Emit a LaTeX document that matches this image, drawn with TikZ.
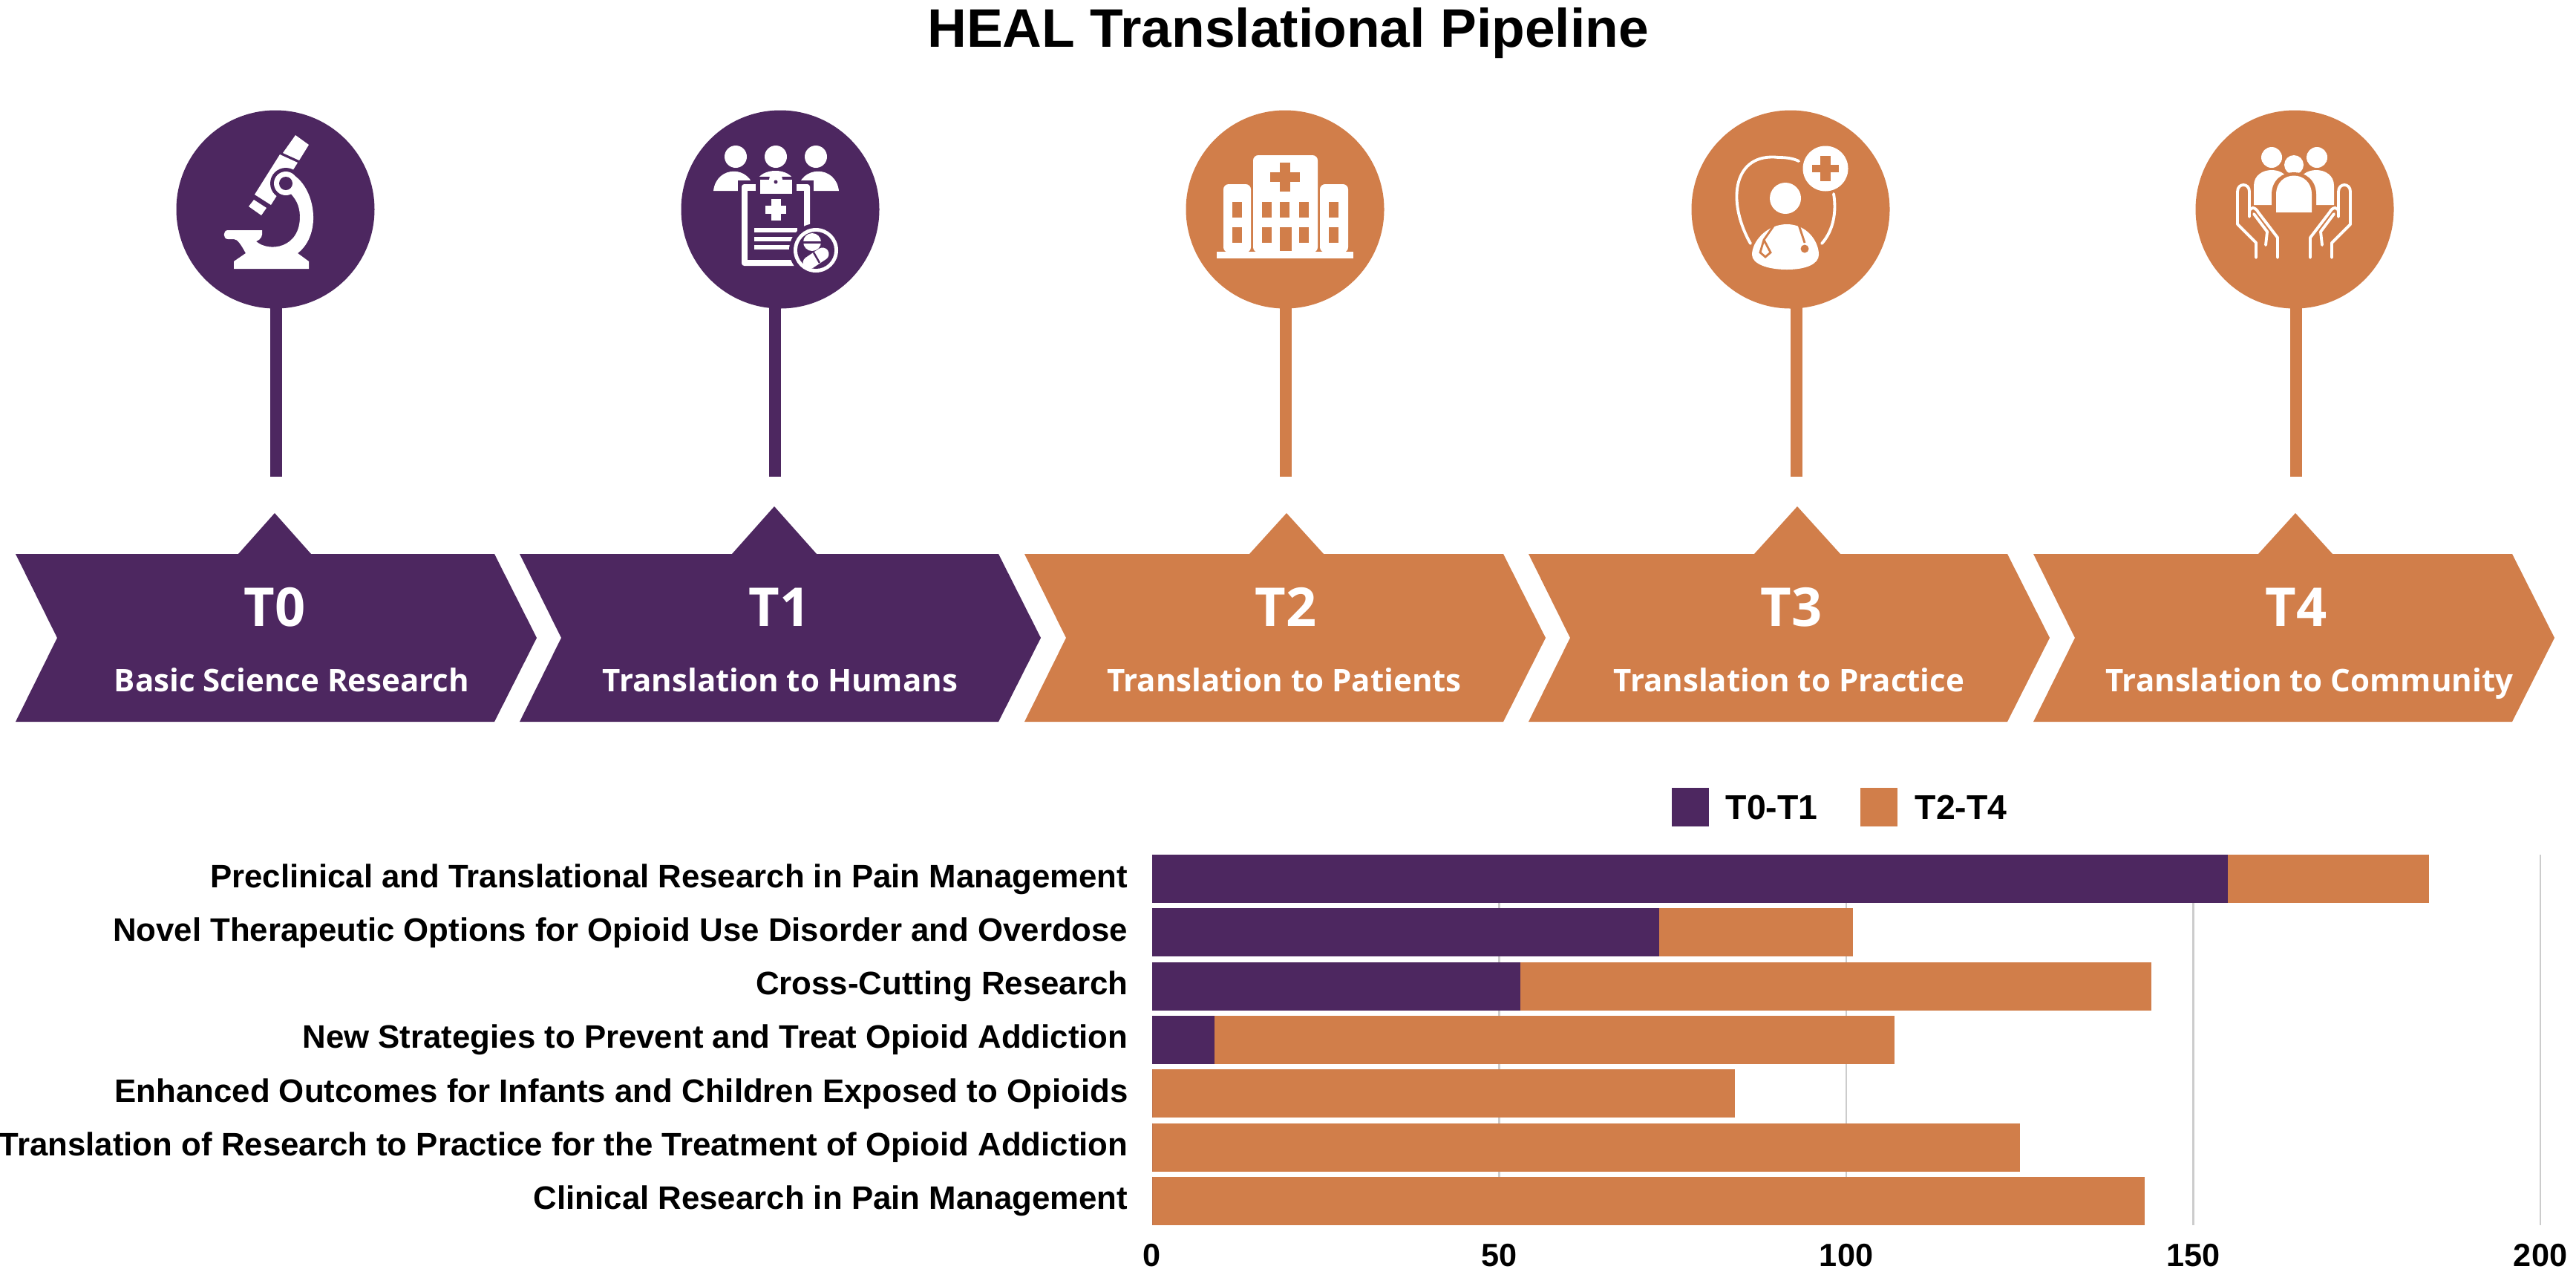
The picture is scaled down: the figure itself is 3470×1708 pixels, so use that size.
\documentclass[tikz,border=0pt]{standalone}
\usepackage{fontspec}
\setmainfont{Open Sans}
\newfontfamily\chartfont{Liberation Sans}
\usetikzlibrary{positioning}
\definecolor{healpurple}{HTML}{4D2760}
\definecolor{healorange}{HTML}{D17E4A}
\tikzset{
	pinhead/.style = {circle, minimum size = 267*0.01cm, inner sep = 0pt},
	stage/.style = {text = white, anchor = base, inner sep = 0pt, font = \fontsize{20.5}{21}\bfseries\selectfont},
	substage/.style = {text = white, anchor = base, inner sep = 0pt, font = \fontsize{11.95}{13}\bfseries\selectfont},
	catlabel/.style = {anchor = base east, inner sep = 0pt, font = \fontsize{12.45}{13}\bfseries\chartfont},
	ticklabel/.style = {anchor = base, inner sep = 0pt, font = \fontsize{12.3}{13}\bfseries\chartfont},
	legendlabel/.style = {anchor = base west, inner sep = 0pt, font = \fontsize{13.2}{14}\bfseries\chartfont},
	gridline/.style = {black!20, line width = 0.6pt},
	icon/.style = {white, draw = none},
	thinline/.style = {white, line width = 1.1pt, line join = round, line cap = round}
}
\begin{document}
\begin{tikzpicture}[x = 0.01cm, y = -0.01cm]
\useasboundingbox (0,0) rectangle (3470,1708);

\node[anchor = base, inner sep = 0pt, font = \fontsize{20.8}{21}\bfseries\chartfont] (title) at (1735,63) {HEAL Translational Pipeline};

% pins: circle x, stem x, triangle x, apex y, half base
\foreach \i/\cx/\sx/\tx/\ay/\hb/\col in {0/371/372/370/691/49/healpurple, 1/1051/1044/1043/682/57/healpurple, 2/1731/1732/1733/691/50/healorange, 3/2412/2420/2421/682/58/healorange, 4/3091/3093/3092/691/50/healorange} {
	\node[pinhead, fill = \col] (pin\i) at (\cx,282) {};
	\coordinate (stemtop\i) at (\sx,400);
	\coordinate (stemfoot\i) at (\sx,642);
	\draw[\col, line width = 16*0.01cm] (stemtop\i) -- (stemfoot\i);
	\fill[\col] (\tx-\hb,746) -- (\tx,\ay) -- (\tx+\hb,746) -- cycle;
}

% chevrons
\foreach \i/\lx/\col/\tlab/\tcx/\sublab/\scx in {0/21/healpurple/T0/370/Basic Science Research/393, 1/700/healpurple/T1/1050/Translation to Humans/1051, 2/1380/healorange/T2/1732/Translation to Patients/1730, 3/2059/healorange/T3/2413/Translation to Practice/2410, 4/2739/healorange/T4/3093/Translation to Community/3111} {
	\fill[\col] (\lx,746) -- (\lx+645,746) -- (\lx+702,859) -- (\lx+645,972) -- (\lx,972) -- (\lx+56,859) -- cycle;
	\node[stage] (stage\i) at (\tcx,843) {\tlab};
	\node[substage] (sub\i) at (\scx,931) {\sublab};
}

% microscope
\fill[icon] (398,182) -- (416,195) -- (403,216) -- (381,206) -- cycle;
\fill[icon] (377,208) -- (401,219) -- (365,276) -- (343,262) -- cycle;
\fill[icon] (342,269) -- (359,280) -- (352,290) -- (335,278) -- cycle;
\fill[healpurple] (385,247) circle (21);
\fill[icon] (391,233) .. controls (425,250) and (435,315) .. (401,341) -- (416,352) -- (416,362) -- (315,362) -- (315,352) -- (331,341) .. controls (325,330) and (320,322) .. (315,322) -- (307,322) .. controls (300,322) and (300,310) .. (307,310) -- (353,310) .. controls (354,318) and (352,322) .. (345,325) .. controls (362,340) and (405,335) .. (404,290) .. controls (403,275) and (398,268) .. (391,260) -- cycle;
\fill[icon] (385,247) circle (16);
\fill[healpurple] (385,247) circle (9);

% clipboard with people
\foreach \p in {991,1045,1099} {
	\fill[icon] (\p,211) circle (15);
}
\fill[icon] (961,257) .. controls (965,222) and (1012,222) .. (1016,257) -- cycle;
\fill[icon] (1074,257) .. controls (1078,222) and (1126,222) .. (1130,257) -- cycle;
\fill[icon] (1019,245) .. controls (1024,225) and (1065,225) .. (1070,245) -- cycle;
\fill[healpurple] (994,243) rectangle (1096,362);
\fill[icon, rounded corners = 1pt] (999,248) rectangle (1091,358);
\fill[healpurple] (1007,257) rectangle (1083,350);
\fill[healpurple] (1018,238) rectangle (1073,266);
\fill[icon] (1024,242) rectangle (1067,261);
\fill[icon] (1045,242) circle (9);
\fill[healpurple] (1045,245) circle (2.5);
\fill[icon] (1039,268) rectangle (1052,297);
\fill[icon] (1031,277) rectangle (1059,288);
\foreach \l in {310,322,333} {
	\fill[icon] (1016,\l-3) rectangle (1074,\l+3);
}
\fill[healpurple] (1099,337) circle (36);
\fill[icon] (1099,337) circle (30);
\fill[healpurple] (1099,337) circle (25);
\fill[icon] (1094,326) circle (12);
\fill[healpurple] (1081,325) rectangle (1107,328);
\draw[white, line width = 17*0.01cm, line cap = round] (1090,354) -- (1108,342);
\draw[healpurple, line width = 0.7pt] (1096,340) -- (1104,354);

% hospital
\fill[icon, rounded corners = 2pt] (1688,209) rectangle (1775,340);
\fill[icon, rounded corners = 2pt] (1648,248) rectangle (1685,340);
\fill[icon, rounded corners = 2pt] (1778,248) rectangle (1816,340);
\fill[icon] (1639,339) rectangle (1823,348);
\fill[healorange] (1724,219) rectangle (1738,258);
\fill[healorange] (1711,232) rectangle (1751,245);
\foreach \wx in {1660,1700,1724,1750,1790} {
	\fill[healorange] (\wx,272) rectangle +(13,21);
	\fill[healorange] (\wx,306) rectangle +(13,21);
}
\fill[healorange] (1724,306) rectangle (1740,338);

% doctor with cross
\draw[thinline] (2358,328) .. controls (2325,270) and (2335,205) .. (2396,212) .. controls (2405,212) and (2415,213) .. (2423,217);
\draw[thinline] (2470,261) .. controls (2474,285) and (2470,310) .. (2454,328);
\fill[icon] (2459,227) circle (30.5);
\fill[healorange] (2452,210) rectangle (2466,244);
\fill[healorange] (2441,222) rectangle (2477,232);
\fill[icon] (2405,267) circle (21);
\fill[icon] (2407,302) .. controls (2380,302) and (2360,325) .. (2360,343) .. controls (2360,355) and (2380,363) .. (2407,363) .. controls (2434,363) and (2450,355) .. (2450,343) .. controls (2450,325) and (2434,302) .. (2407,302) -- cycle;
\draw[healorange, line width = 0.8pt] (2390,303) -- (2376,323) -- (2371,340) -- (2378,346) -- (2385,340) -- (2376,323);
\draw[healorange, line width = 0.8pt] (2423,303) -- (2431,327);
\fill[healorange] (2431,335) circle (5.5);

% hands and people
\fill[icon] (3060,212) circle (14);
\fill[icon] (3121,212) circle (14);
\fill[icon] (3090,222) circle (13);
\fill[icon] (3036,276) -- (3036,250) .. controls (3036,222) and (3084,222) .. (3084,250) -- (3084,276) -- cycle;
\fill[icon] (3144,276) -- (3144,250) .. controls (3144,222) and (3096,222) .. (3096,250) -- (3096,276) -- cycle;
\fill[healorange] (3060,292) -- (3060,262) .. controls (3060,222) and (3120,222) .. (3120,262) -- (3120,292) -- cycle;
\fill[icon] (3066,286) -- (3066,262) .. controls (3066,228) and (3114,228) .. (3114,262) -- (3114,286) -- cycle;
\foreach \s in {1,-1} {
	\begin{scope}[shift = {(3090,0)}, xscale = \s]
		\draw[thinline] (-51,347) -- (-51,327) -- (-76,302) -- (-76,258) .. controls (-76,246) and (-60,246) .. (-60,258) -- (-60,292);
		\draw[thinline] (-60,286) .. controls (-60,278) and (-52,278) .. (-48,286) -- (-22,320) -- (-22,347);
		\draw[thinline] (-54,288) -- (-36,312) -- (-38,330);
	\end{scope}
}

% legend
\fill[healpurple] (2252,1061) rectangle (2302,1113);
\node[legendlabel] (legendA) at (2324,1103) {T0-T1};
\fill[healorange] (2506,1061) rectangle (2556,1113);
\node[legendlabel] (legendB) at (2579,1103) {T2-T4};

% chart
\foreach \v in {50,100,150,200}
	\draw[gridline] ({1552+9.35*\v},1151) -- ({1552+9.35*\v},1650);
\foreach \v in {0,50,100,150,200}
	\node[ticklabel] (tick\v) at ({1552+9.35*\v},1705) {\v};

\foreach \n/\a/\b/\lab in {
	0/155/184/Preclinical and Translational Research in Pain Management,
	1/73/101/Novel Therapeutic Options for Opioid Use Disorder and Overdose,
	2/53/144/Cross-Cutting Research,
	3/9/107/New Strategies to Prevent and Treat Opioid Addiction,
	4/0/84/Enhanced Outcomes for Infants and Children Exposed to Opioids,
	5/0/125/Translation of Research to Practice for the Treatment of Opioid Addiction,
	6/0/143/Clinical Research in Pain Management} {
	\fill[healorange] (1552,{1151+72.3*\n}) rectangle ({1552+9.35*\b},{1216+72.3*\n});
	\fill[healpurple] (1552,{1151+72.3*\n}) rectangle ({1552+9.35*\a},{1216+72.3*\n});
	\node[catlabel] (cat\n) at (1520,{1195+72.3*\n}) {\lab};
}

\end{tikzpicture}
\end{document}
